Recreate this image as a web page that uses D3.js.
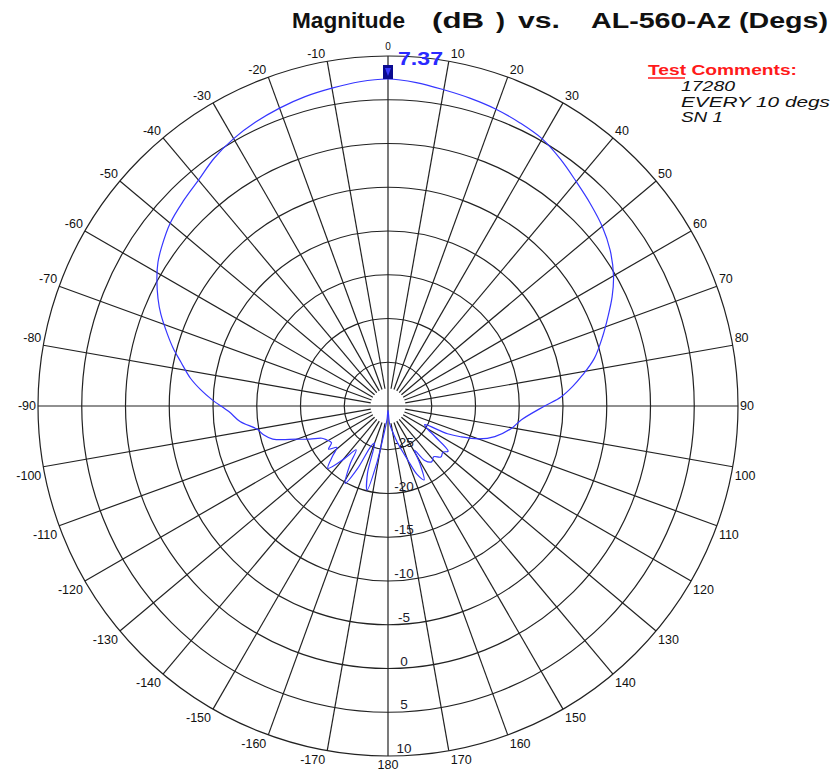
<!DOCTYPE html>
<html>
<head>
<meta charset="utf-8">
<script src="https://cdn.jsdelivr.net/npm/d3@7/dist/d3.min.js"></script>
<style>
  body { margin: 0; background: #fff; }
  text { font-family: Arial, "Liberation Sans", sans-serif; }
</style>
</head>
<body>
<div id="chart"></div>
<script>
// ===========================================
// data (angle in degs, magnitude in dB)
var angles = [-180, -176, -172, -169, -166, -163, -160, -157, -154, -151,
  -147, -144, -140, -136, -132, -129, -126, -123, -119, -116,
  -113, -110, -106, -103, -100, -96, -92, -88, -85, -82,
  -78, -75, -72, -68, -65, -61, -58, -55, -50, -45,
  -40, -35, -30, -25, -20, -15, -10, -5, 0, 5,
  10, 15, 20, 25, 30, 35, 40, 45, 50, 55,
  60, 64, 68, 72, 77, 81, 84, 87, 90, 96,
  100, 106, 110, 113, 115, 117, 120, 123, 127, 130,
  134, 138, 142, 146, 149, 151, 154, 157, 160, 165,
  170, 175];
var gains = [-29.5, -28.5, -27.0, -23.5, -20.1, -22.0, -25.5, -25.0, -22.0, -19.9,
  -22.0, -23.8, -22.0, -20.1, -21.5, -22.5, -21.6, -22.3, -22.0, -21.6,
  -20.3, -18.9, -16.3, -15.4, -14.8, -13.0, -11.8, -9.9, -8.5, -7.2,
  -5.8, -4.6, -3.5, -2.0, -1.0, 0.2, 1.0, 1.6, 2.5, 3.1,
  3.7, 4.6, 5.28, 5.8, 6.23, 6.6, 6.88, 7.2, 7.37, 7.1,
  6.7, 6.4, 6.1, 5.7, 5.25, 4.4, 3.47, 2.7, 1.95, 1.0,
  -0.24, -1.5, -2.9, -4.2, -5.8, -7.5, -8.8, -10.2, -12.1, -14.7,
  -15.6, -17.3, -19.0, -21.0, -22.5, -25.3, -24.8, -23.6, -21.4, -21.8,
  -21.6, -22.2, -21.9, -22.5, -24.1, -22.5, -20.6, -21.5, -23.5, -25.5,
  -27.0, -28.0];

var ringTicks = [-25, -20, -15, -10, -5, 0, 5, 10];
var angleTicks = [-170, -160, -150, -140, -130, -120, -110, -100, -90, -80,
  -70, -60, -50, -40, -30, -20, -10, 0, 10, 20, 30, 40, 50, 60, 70, 80, 90,
  100, 110, 120, 130, 140, 150, 160, 170, 180];
var comments = ["17280", "EVERY 10 degs", "SN 1"];

// ===========================================
// Set up SVG element & polar area
var svgWidth = 834;
var svgHeight = 777;
var cx = 388, cy = 406;
var outerR = 350;

var svg = d3.select("#chart")
    .append("svg")
    .attr("width", svgWidth)
    .attr("height", svgHeight);

svg.append("rect").attr("width", svgWidth).attr("height", svgHeight).attr("fill", "#fff");

var chartGroup = svg.append("g")
    .attr("transform", `translate(${cx},${cy})`);

var rscale = d3.scaleLinear().domain([-30, 10]).range([0, outerR]);
var rad = d => d * Math.PI / 180;
var px = (a, r) => r * Math.sin(rad(a));
var py = (a, r) => -r * Math.cos(rad(a));

// rings
chartGroup.selectAll(".ring")
    .data(ringTicks)
    .enter()
    .append("circle")
    .attr("r", d => rscale(d))
    .attr("fill", "none")
    .attr("stroke", "#222")
    .attr("stroke-width", 1.2);

// spokes every 10 degs, main axes go through the centre
var spokeStart = rscale(-28);
chartGroup.selectAll(".spoke")
    .data(angleTicks)
    .enter()
    .append("line")
    .attr("x1", d => d % 90 === 0 ? 0 : px(d, spokeStart))
    .attr("y1", d => d % 90 === 0 ? 0 : py(d, spokeStart))
    .attr("x2", d => px(d, outerR))
    .attr("y2", d => py(d, outerR))
    .attr("stroke", "#222")
    .attr("stroke-width", 1.2);

// angle labels round the outside
chartGroup.selectAll(".alab")
    .data(angleTicks)
    .enter()
    .append("text")
    .attr("x", function(d){
        var x = px(d, outerR);
        if (d === 0 || d === 180) return x;
        return d > 0 ? x + 2 : x - 2;
    })
    .attr("y", function(d){
        var y = py(d, outerR);
        if (Math.abs(d) === 90) return y + 4;
        if (d === 0) return y - 6;
        return Math.abs(d) < 90 ? y - 3 : y + 13;
    })
    .attr("text-anchor", d => (d === 0 || d === 180) ? "middle" : (d > 0 ? "start" : "end"))
    .attr("font-size", d => d === 0 ? "10px" : "12.5px")
    .attr("fill", "#111")
    .text(d => d);

// dB labels down the 180 axis
chartGroup.selectAll(".rlab")
    .data(ringTicks)
    .enter()
    .append("text")
    .attr("x", 16)
    .attr("y", d => rscale(d) - 3)
    .attr("text-anchor", "middle")
    .attr("font-size", "13.5px")
    .attr("fill", "#1a1a2a")
    .text(d => d);

// pattern trace
var pts = angles.map((a, i) => [rad(a), rscale(gains[i])]);
var line = d3.lineRadial().curve(d3.curveCatmullRomClosed.alpha(0.5));
chartGroup.append("path")
    .attr("d", line(pts))
    .attr("fill", "none")
    .attr("stroke", "#3636ff")
    .attr("stroke-width", 1.2);

// peak marker
var peakIdx = d3.maxIndex(gains);
var peakR = rscale(gains[peakIdx]);
var pkx = px(angles[peakIdx], peakR), pky = py(angles[peakIdx], peakR);
chartGroup.append("rect")
    .attr("x", pkx - 5).attr("y", pky - 14)
    .attr("width", 10).attr("height", 14)
    .attr("fill", "#0a0a90");
chartGroup.append("path")
    .attr("d", `M${pkx - 3},${pky - 11}L${pkx + 3},${pky - 11}L${pkx},${pky - 3}Z`)
    .attr("fill", "#3a3aff");
chartGroup.append("text")
    .attr("x", pkx + 10)
    .attr("y", pky - 14)
    .attr("font-size", "19px")
    .attr("font-weight", "bold")
    .attr("fill", "#2a2aff")
    .attr("textLength", 45)
    .attr("lengthAdjust", "spacingAndGlyphs")
    .text(gains[peakIdx].toFixed(2));

// ===========================================
// title & comments
var titleParts = [["Magnitude", 292, 113], ["(dB", 432, 52], [")", 496, 9], ["vs.", 518, 42], ["AL-560-Az (Degs)", 591, 237]];
svg.selectAll(".title")
    .data(titleParts)
    .enter()
    .append("text")
    .attr("x", d => d[1])
    .attr("y", 28)
    .attr("font-size", "22.5px")
    .attr("font-weight", "bold")
    .attr("fill", "#111")
    .attr("textLength", d => d[2])
    .attr("lengthAdjust", "spacingAndGlyphs")
    .text(d => d[0]);

svg.append("text")
    .attr("x", 648).attr("y", 75)
    .attr("font-size", "15px")
    .attr("font-weight", "bold")
    .attr("fill", "#ff1a1a")
    .attr("textLength", 149)
    .attr("lengthAdjust", "spacingAndGlyphs")
    .text("Test Comments:");
svg.append("line")
    .attr("x1", 648).attr("x2", 685)
    .attr("y1", 78).attr("y2", 78)
    .attr("stroke", "#ff1a1a").attr("stroke-width", 1.3);

svg.selectAll(".cmt")
    .data(comments)
    .enter()
    .append("text")
    .attr("x", 681)
    .attr("y", (d, i) => 91 + i * 15.5)
    .attr("font-size", "14px")
    .attr("font-style", "italic")
    .attr("fill", "#111")
    .attr("textLength", (d, i) => [54, 149, 42][i])
    .attr("lengthAdjust", "spacingAndGlyphs")
    .text(d => d);
</script>
</body>
</html>
